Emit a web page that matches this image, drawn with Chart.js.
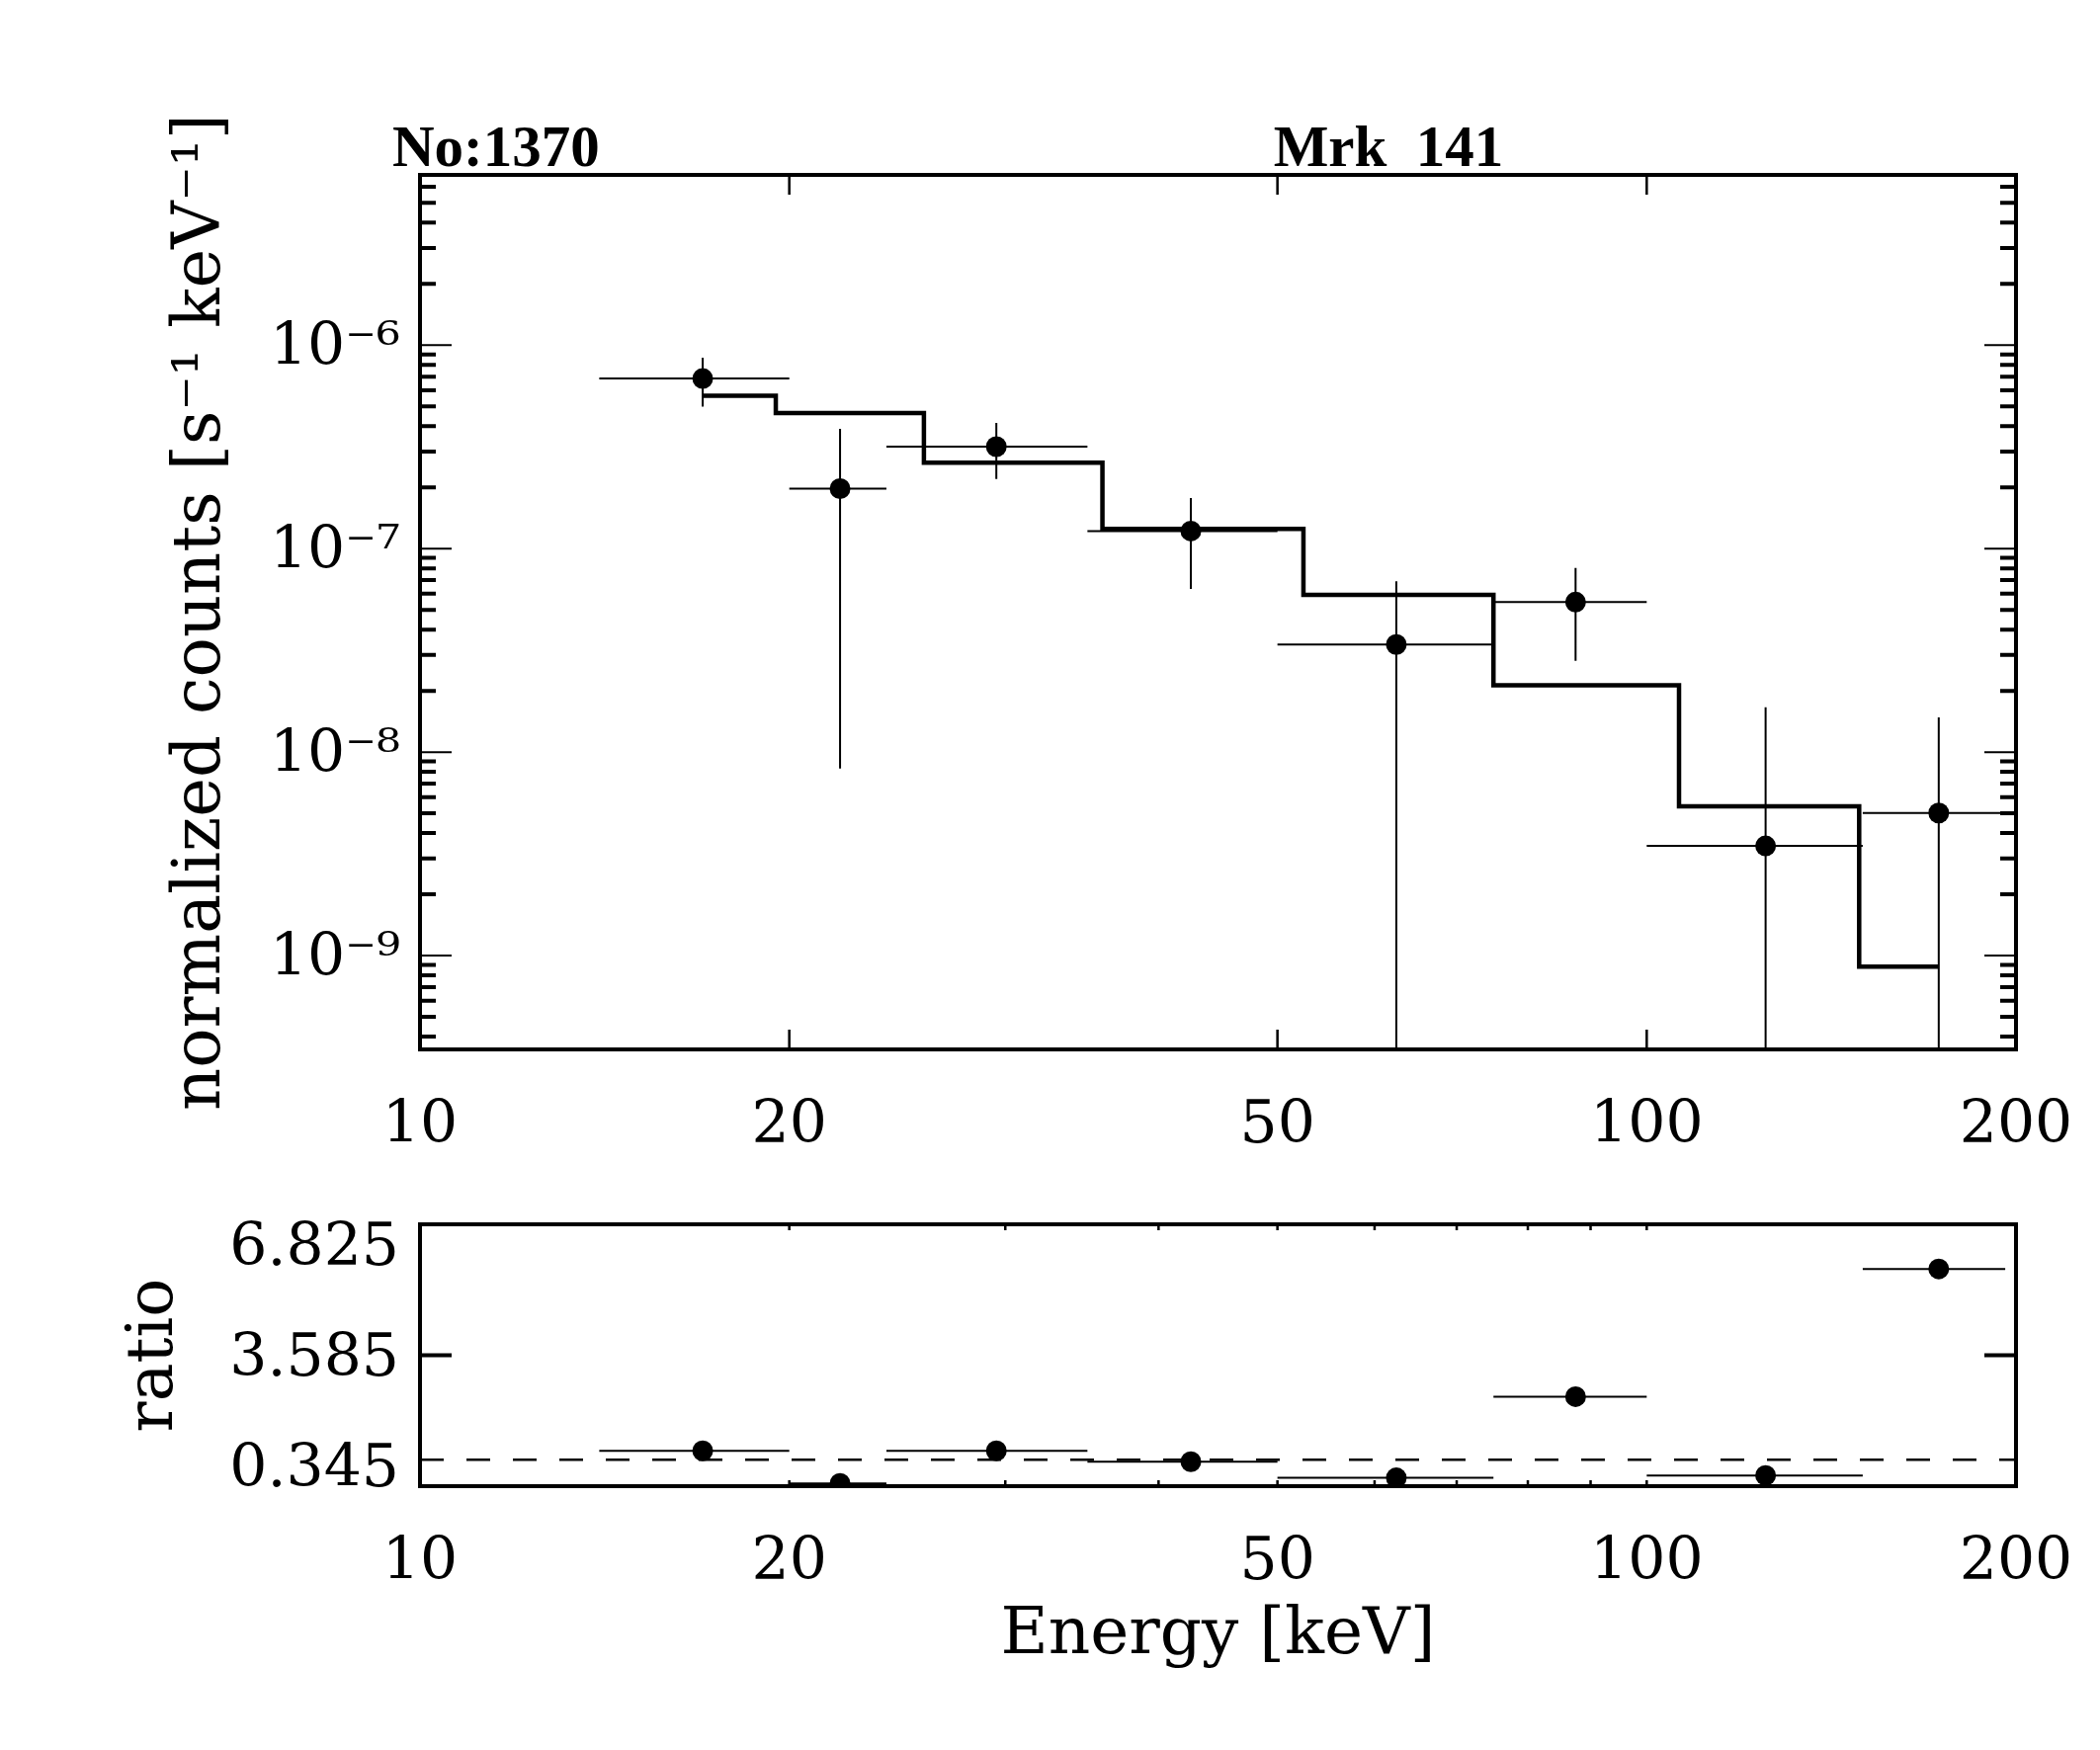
<!DOCTYPE html>
<html>
<head>
<meta charset="utf-8">
<script src="https://cdn.jsdelivr.net/npm/chart.js@4.4.1/dist/chart.umd.min.js"></script>
<style>
  html, body { margin: 0; padding: 0; background: #fff; }
  #wrap { position: relative; width: 2125px; height: 1771px; background: #fff; }
  canvas { position: absolute; left: 0; }
  #spec { top: 0; }
  #ratio { top: 1200px; }
</style>
</head>
<body>
<div id="wrap">
  <canvas id="spec" width="2125" height="1200"></canvas>
  <canvas id="ratio" width="2125" height="571"></canvas>
</div>
<script>
// bin centres and edges (keV)
const energy  = [17, 22, 29.5, 42.5, 62.5, 87.5, 125, 173];
const binLow  = [14, 20, 24, 35, 50, 75, 100, 150];
const binHigh = [20, 24, 35, 50, 75, 100, 150, 196];
// normalized counts with error range (s^-1 keV^-1)
const counts  = [6.85e-7, 1.97e-7, 3.17e-7, 1.22e-7, 3.38e-8, 5.46e-8, 3.46e-9, 5.02e-9];
const errHigh = [8.67e-7, 3.88e-7, 4.15e-7, 1.77e-7, 6.9e-8, 8.03e-8, 1.66e-8, 1.48e-8];
const errLow  = [4.98e-7, 8.3e-9, 2.2e-7, 6.34e-8, 1e-10, 2.81e-8, 1e-10, 1e-10];
// folded model
const model   = [5.63e-7, 4.63e-7, 2.64e-7, 1.25e-7, 5.92e-8, 2.13e-8, 5.41e-9, 8.83e-10];
// data / model
const ratio   = [1.22, 0.415, 1.22, 0.95, 0.55, 2.56, 0.61, 5.72];

// ticks
const xTicks = [10, 20, 50, 100, 200];
const xMajorMarks = [20, 50, 100];
const xRatioMarks = [20, 30, 40, 50, 60, 70, 80, 90, 100];
const yDecades = [1e-9, 1e-8, 1e-7, 1e-6];
const yMinorSteps = [2, 3, 4, 5, 6, 7, 8, 9];
const ratioTicks = [0.345, 3.585, 6.825];

const SUP = {'-': '\u207B', '0': '\u2070', '1': '\u00B9', '2': '\u00B2', '3': '\u00B3', '4': '\u2074',
             '5': '\u2075', '6': '\u2076', '7': '\u2077', '8': '\u2078', '9': '\u2079'};
const sup = s => String(s).split('').map(c => SUP[c] || c).join('');

Chart.defaults.font.family = '"DejaVu Serif", serif';
Chart.defaults.font.size = 60;
Chart.defaults.color = '#000';

// IDL style histogram: steps half way between bin centres
function stepPoints(xs, ys) {
  const pts = [{x: xs[0], y: ys[0]}];
  for (let i = 0; i < xs.length - 1; i++) {
    const mid = (xs[i] + xs[i + 1]) / 2;
    pts.push({x: mid, y: ys[i]}, {x: mid, y: ys[i + 1]});
  }
  pts.push({x: xs[xs.length - 1], y: ys[ys.length - 1]});
  return pts;
}

function frame(ctx, a) {
  ctx.lineWidth = 4;
  ctx.strokeStyle = '#000';
  ctx.setLineDash([]);
  ctx.strokeRect(a.left, a.top, a.right - a.left, a.bottom - a.top);
}
function xMarks(ctx, sx, a, values, len, width) {
  ctx.lineWidth = width;
  ctx.beginPath();
  values.forEach(v => {
    const px = sx.getPixelForValue(v);
    ctx.moveTo(px, a.bottom); ctx.lineTo(px, a.bottom - len);
    ctx.moveTo(px, a.top); ctx.lineTo(px, a.top + len);
  });
  ctx.stroke();
}
function yMarks(ctx, sy, a, values, len, width) {
  ctx.lineWidth = width;
  ctx.beginPath();
  values.forEach(v => {
    const py = sy.getPixelForValue(v);
    if (py < a.top - 1 || py > a.bottom + 1) return;
    ctx.moveTo(a.left, py); ctx.lineTo(a.left + len, py);
    ctx.moveTo(a.right, py); ctx.lineTo(a.right - len, py);
  });
  ctx.stroke();
}
function errorBars(chart, ys, withY) {
  const {ctx, chartArea: a, scales: {x, y}} = chart;
  ctx.save();
  ctx.beginPath();
  ctx.rect(a.left, a.top, a.right - a.left, a.bottom - a.top);
  ctx.clip();
  ctx.strokeStyle = '#000';
  ctx.lineWidth = 2;
  ctx.beginPath();
  energy.forEach((e, i) => {
    const py = y.getPixelForValue(ys[i]);
    ctx.moveTo(x.getPixelForValue(binLow[i]), py);
    ctx.lineTo(x.getPixelForValue(binHigh[i]), py);
    if (withY) {
      const px = x.getPixelForValue(e);
      ctx.moveTo(px, y.getPixelForValue(errHigh[i]));
      ctx.lineTo(px, y.getPixelForValue(errLow[i]));
    }
  });
  ctx.stroke();
  ctx.restore();
}

// invisible tick marks are used as label offset so the layout padding stays put
const xScale = (height, title) => ({
  type: 'logarithmic',
  min: 10, max: 200,
  grid: {display: false, drawTicks: true, tickLength: 42},
  border: {display: false},
  afterBuildTicks: s => { s.ticks = xTicks.map(v => ({value: v})); },
  afterFit: s => { s.height = height; },
  ticks: {padding: 0, autoSkip: false, maxRotation: 0, callback: v => String(v)},
  title: title
});

// top panel: spectrum
new Chart(document.getElementById('spec'), {
  type: 'scatter',
  data: {
    datasets: [
      {
        type: 'line',
        data: stepPoints(energy, model),
        borderColor: '#000', borderWidth: 4.5, pointRadius: 0, tension: 0, fill: false, clip: 0
      },
      {
        data: energy.map((e, i) => ({x: e, y: counts[i]})),
        pointRadius: 10.5, pointBackgroundColor: '#000', pointBorderWidth: 0, clip: 0
      }
    ]
  },
  options: {
    responsive: false, animation: false, devicePixelRatio: 1,
    layout: {padding: {top: 177, right: 85, left: 0, bottom: 0}},
    plugins: {legend: {display: false}, tooltip: {enabled: false}},
    scales: {
      x: xScale(138, {display: false}),
      y: {
        type: 'logarithmic',
        min: 3.46e-10, max: 6.86e-6,
        grid: {display: false, drawTicks: true, tickLength: 20},
        border: {display: false},
        afterBuildTicks: s => { s.ticks = yDecades.map(v => ({value: v})); },
        afterFit: s => { s.width = 425; },
        ticks: {padding: 0, labelOffset: 4, autoSkip: false,
                callback: v => '10' + sup(Math.round(Math.log10(v)))},
        title: {display: true, text: 'normalized counts [s' + sup('-1') + ' keV' + sup('-1') + ']',
                font: {size: 67}, padding: {top: 164}}
      }
    }
  },
  plugins: [{
    id: 'specDecor',
    beforeDatasetsDraw(chart) { errorBars(chart, counts, true); },
    afterDatasetsDraw(chart) {
      const {ctx, chartArea: a, scales: {x, y}} = chart;
      ctx.save();
      ctx.strokeStyle = '#000';
      xMarks(ctx, x, a, xMajorMarks, 20, 2.5);
      yMarks(ctx, y, a, yDecades, 32, 2);
      const minor = [];
      yDecades.concat([1e-10]).forEach(d => yMinorSteps.forEach(k => minor.push(d * k)));
      yMarks(ctx, y, a, minor, 16, 4);
      frame(ctx, a);
      ctx.fillStyle = '#000';
      ctx.font = 'bold 59px "Liberation Serif", serif';
      ctx.textBaseline = 'alphabetic';
      ctx.fillText('No:1370', a.left - 28, 168);
      ctx.fillText('Mrk  141', x.getPixelForValue(50) - 4, 168);
      ctx.restore();
    }
  }]
});

// bottom panel: ratio
new Chart(document.getElementById('ratio'), {
  type: 'scatter',
  data: {
    datasets: [{
      data: energy.map((e, i) => ({x: e, y: ratio[i]})),
      yAxisID: 'y',
      pointRadius: 10.5, pointBackgroundColor: '#000', pointBorderWidth: 0, clip: 0
    }]
  },
  options: {
    responsive: false, animation: false, devicePixelRatio: 1,
    layout: {padding: {top: 39, right: 85, left: 0, bottom: 0}},
    plugins: {legend: {display: false}, tooltip: {enabled: false}},
    scales: {
      x: xScale(267, {display: true, text: 'Energy [keV]', font: {size: 66}, padding: {bottom: 76}}),
      y: {type: 'linear', min: 0.345, max: 6.825, display: false},
      yl: {
        axis: 'y', position: 'left', type: 'linear',
        min: -0.236, max: 7.456,
        grid: {display: false, drawTicks: true, tickLength: 21},
        border: {display: false},
        afterBuildTicks: s => { s.ticks = ratioTicks.map(v => ({value: v})); },
        afterFit: s => { s.width = 425; },
        ticks: {padding: 0, labelOffset: 4, autoSkip: false, callback: v => v.toFixed(3)},
        title: {display: true, text: 'ratio', font: {size: 65}, padding: {top: 118}}
      }
    }
  },
  plugins: [{
    id: 'ratioDecor',
    beforeDatasetsDraw(chart) { errorBars(chart, ratio, false); },
    afterDatasetsDraw(chart) {
      const {ctx, chartArea: a, scales: {x, y}} = chart;
      ctx.save();
      ctx.strokeStyle = '#000';
      // unity line
      const py = y.getPixelForValue(1);
      ctx.lineWidth = 2.5;
      ctx.setLineDash([24, 23]);
      ctx.beginPath();
      ctx.moveTo(a.left, py); ctx.lineTo(a.right, py);
      ctx.stroke();
      ctx.setLineDash([]);
      xMarks(ctx, x, a, xRatioMarks, 6, 2.5);
      yMarks(ctx, y, a, ratioTicks, 32, 4);
      frame(ctx, a);
      ctx.restore();
    }
  }]
});
</script>
</body>
</html>
